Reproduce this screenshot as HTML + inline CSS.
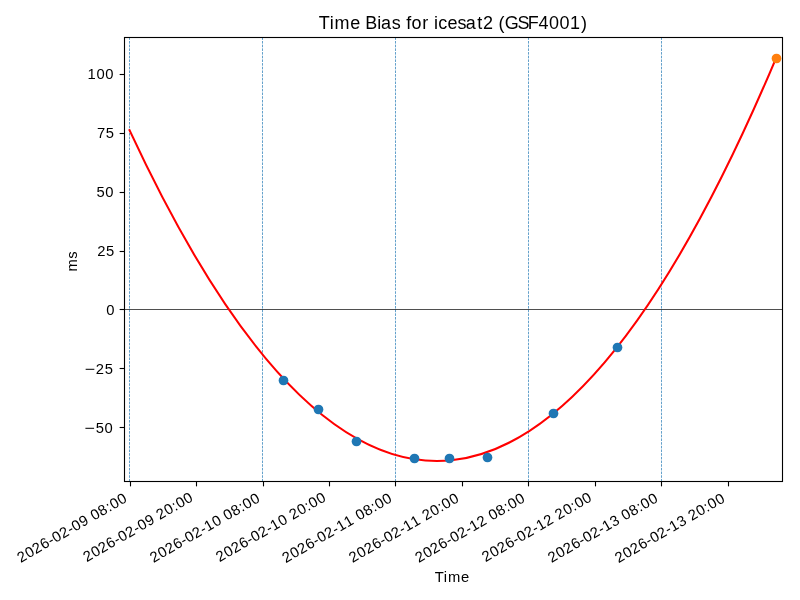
<!DOCTYPE html>
<html lang="en">
<head>
<meta charset="utf-8">
<title>Time Bias for icesat2 (GSF4001)</title>
<style>
html,body{margin:0;padding:0;background:#fff;}
body{width:800px;height:600px;overflow:hidden;font-family:'Liberation Sans', sans-serif;}
svg{display:block;will-change:transform;}
text{font-family:'Liberation Sans', sans-serif;fill:#000;}
.tk{font-size:14.77px;}
.ti{font-size:17.66px;}
.sp{stroke:#000;stroke-width:1.111;fill:none;}
.vd{stroke:#1f77b4;stroke-width:0.694;stroke-dasharray:2.569 1.111;fill:none;}
</style>
</head>
<body>
<svg width="800" height="600" viewBox="0 0 800 600" role="img" aria-label="Time Bias for icesat2 (GSF4001)">
<rect x="0" y="0" width="800" height="600" fill="#ffffff"/>
<defs><clipPath id="ax"><rect x="124.5" y="37.5" width="658" height="444"/></clipPath></defs>
<g clip-path="url(#ax)">
<line class="vd" x1="129.5" y1="481.5" x2="129.5" y2="37.5"/>
<line class="vd" x1="262.5" y1="481.5" x2="262.5" y2="37.5"/>
<line class="vd" x1="395.5" y1="481.5" x2="395.5" y2="37.5"/>
<line class="vd" x1="528.5" y1="481.5" x2="528.5" y2="37.5"/>
<line class="vd" x1="661.5" y1="481.5" x2="661.5" y2="37.5"/>
<line x1="124.5" y1="309.5" x2="782.5" y2="309.5" stroke="#000" stroke-width="0.694"/>
<path d="M129.50 130.16 Q453.00 826.52 776.50 57.03" fill="none" stroke="#ff0000" stroke-width="2.083" stroke-linecap="square"/>
<circle cx="283.5" cy="380.5" r="4.86" fill="#1f77b4"/>
<circle cx="318.5" cy="409.5" r="4.86" fill="#1f77b4"/>
<circle cx="356.5" cy="441.5" r="4.86" fill="#1f77b4"/>
<circle cx="414.5" cy="458.5" r="4.86" fill="#1f77b4"/>
<circle cx="449.5" cy="458.5" r="4.86" fill="#1f77b4"/>
<circle cx="487.5" cy="457.5" r="4.86" fill="#1f77b4"/>
<circle cx="553.5" cy="413.5" r="4.86" fill="#1f77b4"/>
<circle cx="617.5" cy="347.5" r="4.86" fill="#1f77b4"/>
<circle cx="776.5" cy="58.5" r="4.86" fill="#ff7f0e"/>
</g>
<line class="sp" x1="130.5" y1="481.5" x2="130.5" y2="486.36"/>
<line class="sp" x1="196.5" y1="481.5" x2="196.5" y2="486.36"/>
<line class="sp" x1="263.5" y1="481.5" x2="263.5" y2="486.36"/>
<line class="sp" x1="329.5" y1="481.5" x2="329.5" y2="486.36"/>
<line class="sp" x1="395.5" y1="481.5" x2="395.5" y2="486.36"/>
<line class="sp" x1="462.5" y1="481.5" x2="462.5" y2="486.36"/>
<line class="sp" x1="528.5" y1="481.5" x2="528.5" y2="486.36"/>
<line class="sp" x1="595.5" y1="481.5" x2="595.5" y2="486.36"/>
<line class="sp" x1="661.5" y1="481.5" x2="661.5" y2="486.36"/>
<line class="sp" x1="728.5" y1="481.5" x2="728.5" y2="486.36"/>
<line class="sp" x1="119.64" y1="74.5" x2="124.5" y2="74.5"/>
<line class="sp" x1="119.64" y1="133.5" x2="124.5" y2="133.5"/>
<line class="sp" x1="119.64" y1="192.5" x2="124.5" y2="192.5"/>
<line class="sp" x1="119.64" y1="251.5" x2="124.5" y2="251.5"/>
<line class="sp" x1="119.64" y1="309.5" x2="124.5" y2="309.5"/>
<line class="sp" x1="119.64" y1="368.5" x2="124.5" y2="368.5"/>
<line class="sp" x1="119.64" y1="427.5" x2="124.5" y2="427.5"/>
<rect class="sp" x="124.5" y="37.5" width="658" height="444"/>
<text class="ti" transform="translate(319.23,28.87) scale(1.02,1)" x="-0.40 10.25 15.09 30.43 40.29 45.14 56.93 60.60 71.05 79.56 85.36 90.54 101.12 107.08 112.57 116.65 125.86 135.67 143.65 154.85 160.59 170.86 175.83 181.84 194.36 204.55 214.93 225.27 235.61 245.86 256.71" y="0">Time Bias for icesat2 (GSF4001)</text>
<text class="tk" transform="translate(434.98,581.73)" x="-0.27 8.78 12.99 26.07" y="0">Time</text>
<text class="tk" transform="translate(77.35,272.26) rotate(-90)" x="0.65 13.45" y="0">ms</text>
<text class="tk" transform="translate(20.55,563.16) rotate(-30)" x="0.12 9.08 17.67 26.62 35.13 40.36 48.95 57.64 62.88 71.60 80.11 84.80 93.57 102.32 106.98 115.75" y="0">2026-02-09 08:00</text>
<text class="tk" transform="translate(86.58,562.35) rotate(-30)" x="0.12 9.08 17.67 26.62 35.13 40.36 48.95 57.64 62.88 71.60 80.11 84.62 93.57 102.32 106.98 115.75" y="0">2026-02-09 20:00</text>
<text class="tk" transform="translate(153.39,563.16) rotate(-30)" x="0.12 9.08 17.67 26.62 35.13 40.36 48.95 57.64 62.80 71.65 80.11 84.80 93.57 102.32 106.98 115.75" y="0">2026-02-10 08:00</text>
<text class="tk" transform="translate(219.42,562.35) rotate(-30)" x="0.12 9.08 17.67 26.62 35.13 40.36 48.95 57.64 62.80 71.65 80.11 84.62 93.57 102.32 106.98 115.75" y="0">2026-02-10 20:00</text>
<text class="tk" transform="translate(285.63,563.22) rotate(-30)" x="0.12 9.08 17.67 26.62 35.13 40.36 48.95 57.64 62.80 71.57 80.11 84.80 93.57 102.32 106.98 115.75" y="0">2026-02-11 08:00</text>
<text class="tk" transform="translate(352.40,563.16) rotate(-30)" x="0.12 9.08 17.67 26.62 35.13 40.36 48.95 57.64 62.80 71.57 80.11 84.62 93.57 102.32 106.98 115.75" y="0">2026-02-11 20:00</text>
<text class="tk" transform="translate(418.57,563.16) rotate(-30)" x="0.12 9.08 17.67 26.62 35.13 40.36 48.95 57.64 62.80 71.46 80.11 84.80 93.57 102.32 106.98 115.75" y="0">2026-02-12 08:00</text>
<text class="tk" transform="translate(485.35,562.35) rotate(-30)" x="0.12 9.08 17.67 26.62 35.13 40.36 48.95 57.64 62.80 71.46 80.11 84.62 93.57 102.32 106.98 115.75" y="0">2026-02-12 20:00</text>
<text class="tk" transform="translate(551.41,563.16) rotate(-30)" x="0.12 9.08 17.67 26.62 35.13 40.36 48.95 57.64 62.80 71.67 80.11 84.80 93.57 102.32 106.98 115.75" y="0">2026-02-13 08:00</text>
<text class="tk" transform="translate(618.44,563.35) rotate(-30)" x="0.12 9.08 17.67 26.62 35.13 40.36 48.95 57.64 62.80 71.67 80.11 84.62 93.57 102.32 106.98 115.75" y="0">2026-02-13 20:00</text>
<text class="tk" transform="translate(83.90,432.70)" y="0"><tspan x="0.59" textLength="10.44" lengthAdjust="spacingAndGlyphs">−</tspan><tspan x="11.80 20.63">50</tspan></text>
<text class="tk" transform="translate(84.15,373.80)" y="0"><tspan x="0.59" textLength="10.44" lengthAdjust="spacingAndGlyphs">−</tspan><tspan x="11.67 20.57">25</tspan></text>
<text class="tk" transform="translate(106.03,314.90)" x="0.31" y="0">0</text>
<text class="tk" transform="translate(97.03,256.00)" x="0.12 9.02" y="0">25</text>
<text class="tk" transform="translate(96.28,197.10)" x="0.25 9.08" y="0">50</text>
<text class="tk" transform="translate(96.78,138.45)" x="0.28 9.02" y="0">75</text>
<text class="tk" transform="translate(87.40,79.30)" x="0.23 9.08 17.85" y="0">100</text>
</svg>
</body>
</html>
